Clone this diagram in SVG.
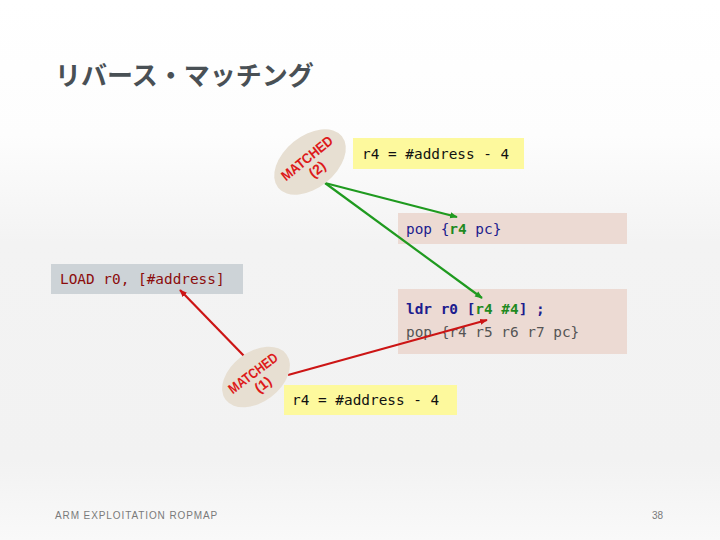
<svg xmlns="http://www.w3.org/2000/svg" width="720" height="540" viewBox="0 0 720 540">
<defs>
<linearGradient id="bg" x1="0" y1="0" x2="0" y2="1">
<stop offset="0" stop-color="#ffffff"/>
<stop offset="0.25" stop-color="#fdfdfd"/>
<stop offset="0.45" stop-color="#f3f3f3"/>
<stop offset="0.85" stop-color="#f2f2f2"/>
<stop offset="1" stop-color="#f9f9f9"/>
</linearGradient>
<marker id="ag" viewBox="0 0 10 10" refX="9" refY="5" markerWidth="3.5" markerHeight="3.5" orient="auto" markerUnits="strokeWidth">
<path d="M0,1 L10,5 L0,9 z" fill="#1f9a1f"/>
</marker>
<marker id="ar" viewBox="0 0 10 10" refX="9" refY="5" markerWidth="3.5" markerHeight="3.5" orient="auto" markerUnits="strokeWidth">
<path d="M0,1 L10,5 L0,9 z" fill="#cc1515"/>
</marker>
</defs>
<style>
.title{font-family:"Noto Sans CJK JP","Noto Sans",sans-serif;font-weight:bold;font-size:26px;fill:#495055}
.code{font-family:"DejaVu Sans Mono","Liberation Mono",monospace;font-size:14.4px}
.navy{fill:#1c1c8e}
.grn{fill:#1f8a1f;font-weight:bold}
.ell{fill:#e7dfd2}
.mt{font-family:"Liberation Sans",Arial,sans-serif;font-weight:bold;font-size:14px;fill:#dd1a1a;text-anchor:middle}
.foot{font-family:"Liberation Sans",Arial,sans-serif;font-size:10px;fill:#7a7a7a}
.g{stroke:#1f9a1f;stroke-width:2.2;fill:none}
.r{stroke:#cc1515;stroke-width:2.2;fill:none}
</style>
<rect width="720" height="540" fill="url(#bg)"/>
<text class="title" x="55" y="85">リバース・マッチング</text>

<g id="box-r4-top">
<rect x="353" y="138" width="171" height="31" fill="#fdf99d"/>
<text class="code" x="362" y="159" fill="#111">r4 = #address - 4</text>
</g>
<g id="box-pop">
<rect x="398" y="213" width="229" height="31" fill="#ecdad3"/>
<text class="code navy" x="406" y="234">pop {<tspan class="grn">r4</tspan> pc}</text>
</g>
<g id="box-load">
<rect x="51" y="264" width="192" height="30" fill="#cdd3d7"/>
<text class="code" x="60" y="284" fill="#8b0c0c">LOAD r0, [#address]</text>
</g>
<g id="box-ldr">
<rect x="398" y="289" width="229" height="65" fill="#ecdad3"/>
<text class="code navy" x="406" y="314" font-weight="bold">ldr r0 [<tspan class="grn">r4 #4</tspan>] ;</text>
<text class="code" x="406" y="337" fill="#555">pop {r4 r5 r6 r7 pc}</text>
</g>
<g id="box-r4-bottom">
<rect x="284" y="385" width="173" height="30" fill="#fdf99d"/>
<text class="code" x="292" y="405" fill="#111">r4 = #address - 4</text>
</g>

<g id="connectors">
<line class="g" x1="325" y1="183" x2="457" y2="217" marker-end="url(#ag)"/>
<line class="g" x1="325" y1="183" x2="482" y2="298" marker-end="url(#ag)"/>
<line class="r" x1="245" y1="357" x2="180" y2="290" marker-end="url(#ar)"/>
<line class="r" x1="288" y1="375" x2="487" y2="320" marker-end="url(#ar)"/>
</g>

<g id="matched-2" transform="translate(310,162) rotate(-39)">
<ellipse class="ell" cx="0" cy="0" rx="41" ry="26"/>
<text class="mt" x="0" y="0" textLength="62" lengthAdjust="spacingAndGlyphs">MATCHED</text>
<text class="mt" x="1" y="15">(2)</text>
</g>
<g id="matched-1" transform="translate(256,377) rotate(-37)">
<ellipse class="ell" cx="0" cy="0" rx="38" ry="25"/>
<text class="mt" x="0" y="0" textLength="58" lengthAdjust="spacingAndGlyphs">MATCHED</text>
<text class="mt" x="1" y="15">(1)</text>
</g>

<text class="foot" x="55" y="519" letter-spacing="0.9">ARM EXPLOITATION ROPMAP</text>
<text class="foot" x="652" y="519" font-size="11">38</text>
</svg>
